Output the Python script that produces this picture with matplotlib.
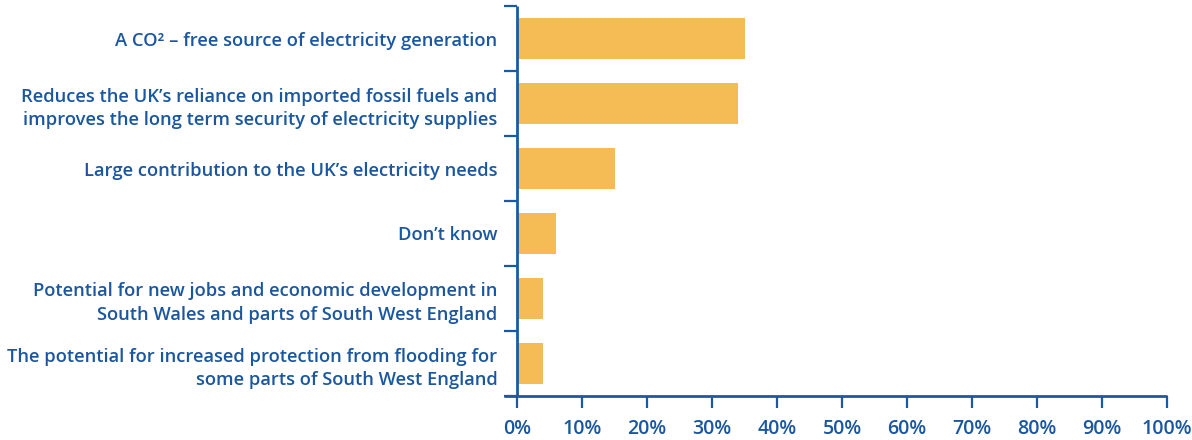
import matplotlib
matplotlib.use("Agg")
import matplotlib.pyplot as plt
import numpy as np

categories = [
    "A CO² – free source of electricity generation",
    "Reduces the UK’s reliance on imported fossil fuels and\nimproves the long term security of electricity supplies",
    "Large contribution to the UK’s electricity needs",
    "Don’t know",
    "Potential for new jobs and economic development in\nSouth Wales and parts of South West England",
    "The potential for increased protection from flooding for\nsome parts of South West England",
]
values = [35, 34, 15, 6, 4, 4]
xticks = [0, 10, 20, 30, 40, 50, 60, 70, 80, 90, 100]
xticklabels = [f"{t}%" for t in xticks]

BAR = "#F5BB55"
BLUE = "#1B5AA2"
TXT = "#1A57A0"

plt.rcParams['font.family'] = ['Open Sans', 'DejaVu Sans']

fig = plt.figure(figsize=(11.92, 4.4), dpi=100)
ax = fig.add_axes([517/1192, 1 - 396/440, 650/1192, 390/440])

n = len(categories)
ypos = np.arange(n)
ax.barh(ypos, values, height=0.62, color=BAR, zorder=2)
ax.set_xlim(0, 100)
ax.set_ylim(n - 0.5, -0.5)

for s in ['top', 'right']:
    ax.spines[s].set_visible(False)
for s in ['left', 'bottom']:
    ax.spines[s].set_color(BLUE)
    ax.spines[s].set_linewidth(2.0)
    ax.spines[s].set_capstyle('butt')

# extend x axis line to the left
ax.plot([-13/650, 0], [0, 0], transform=ax.transAxes, color=BLUE, lw=2.0,
        clip_on=False, solid_capstyle='butt')

ax.set_xticks(xticks)
ax.set_xticklabels(xticklabels, color=TXT, fontsize=14, fontweight='semibold')
ax.tick_params(axis='x', direction='out', length=8.5, width=1.6, color=BLUE, pad=8)

ax.set_yticks(ypos)
ax.set_yticklabels(categories, color=TXT, fontsize=13.2, fontweight='semibold',
                   linespacing=1.38)
ax.tick_params(axis='y', which='major', length=0, pad=14)
ax.set_yticks(np.arange(-0.5, n, 1.0), minor=True)
ax.tick_params(axis='y', which='minor', direction='out', length=9.5, width=1.6, color=BLUE)

fig.savefig("out.png", dpi=100)
